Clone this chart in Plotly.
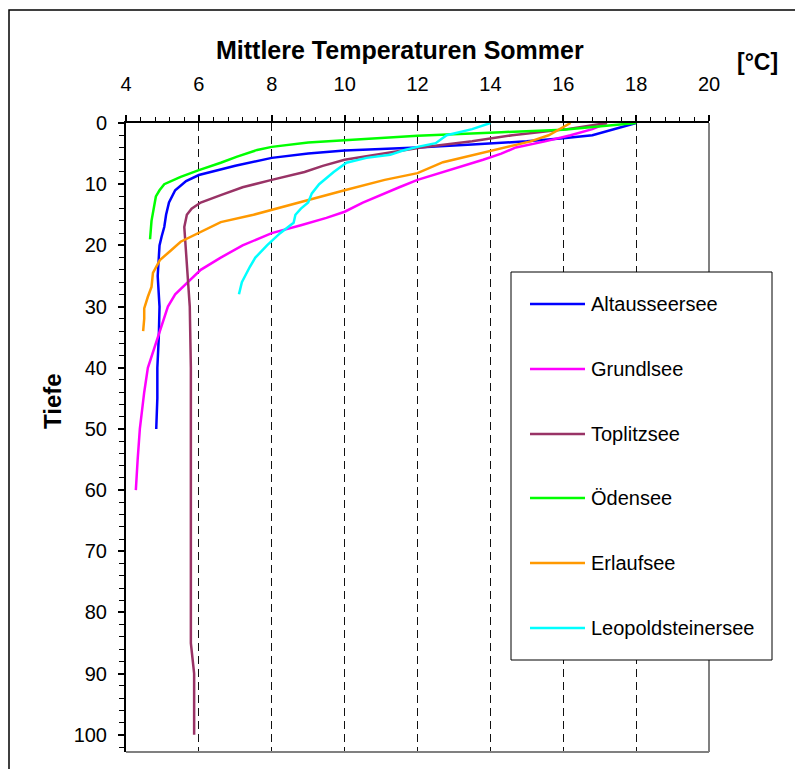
import plotly.graph_objects as go

# ---------------- data ----------------
lake_names = ["Altausseersee", "Grundlsee", "Toplitzsee", "Ödensee", "Erlaufsee", "Leopoldsteinersee"]
lake_colors = ["#0000FF", "#FF00FF", "#993366", "#00FF00", "#FF9900", "#00FFFF"]

altaussee_depth = [0, 1, 2, 2.5, 3, 3.5, 4, 4.5, 5, 5.7, 7, 8.5, 9.5, 11, 13, 15, 17, 18.5, 20, 25, 30, 35, 40, 45, 50]
altaussee_temp = [18.0, 17.4, 16.8, 16.0, 15.0, 13.5, 12.0, 10.0, 9.0, 8.0, 7.0, 6.0, 5.65, 5.35, 5.18, 5.1, 5.05, 4.98, 4.92, 4.87, 4.92, 4.9, 4.86, 4.86, 4.83]

grundl_depth = [0, 1, 2, 3, 4, 5, 6, 7.3, 9.3, 10.5, 11.5, 13, 14.5, 15.5, 16.7, 18, 20, 22, 24, 26, 28, 30, 35, 40, 44, 50, 55, 60]
grundl_temp = [17.2, 16.8, 16.2, 15.5, 14.7, 14.3, 13.8, 13.1, 12.0, 11.5, 11.1, 10.5, 10.0, 9.5, 8.8, 8.0, 7.2, 6.6, 6.05, 5.7, 5.35, 5.15, 4.88, 4.6, 4.5, 4.38, 4.32, 4.27]

toplitz_depth = [0, 1, 2, 3, 4, 5, 6, 7, 8, 9.3, 10.5, 11.8, 13, 14, 15, 17, 20, 25, 30, 40, 50, 60, 70, 80, 85, 90, 100]
toplitz_temp = [17.2, 16.1, 14.6, 13.5, 12.1, 11.0, 10.0, 9.4, 8.9, 8.0, 7.2, 6.6, 6.05, 5.8, 5.67, 5.6, 5.63, 5.7, 5.75, 5.78, 5.78, 5.78, 5.78, 5.78, 5.78, 5.87, 5.87]

oeden_depth = [0, 0.5, 1.1, 1.5, 2.1, 2.8, 3.2, 3.9, 4.4, 5.5, 6.5, 7.7, 8.8, 10, 11, 12, 14, 16, 19]
oeden_temp = [18.0, 17.0, 16.0, 14.3, 12.0, 10.0, 9.0, 8.0, 7.6, 7.05, 6.6, 6.0, 5.5, 5.05, 4.92, 4.82, 4.75, 4.7, 4.66]

erlauf_depth = [0, 1, 2, 3, 4, 5, 6.4, 8.2, 9.3, 11, 12.1, 13, 14.2, 15, 16.2, 18, 19.4, 21, 22.4, 24.5, 26.8, 28.4, 30.3, 32, 34]
erlauf_temp = [16.2, 15.9, 15.6, 15.1, 14.4, 13.7, 12.7, 12.0, 11.1, 10.0, 9.3, 8.8, 8.0, 7.5, 6.6, 6.0, 5.5, 5.2, 4.93, 4.74, 4.7, 4.6, 4.5, 4.5, 4.47]

leopold_depth = [0, 1, 2, 3.3, 3.9, 4.5, 5.2, 5.7, 6.5, 8, 10, 11.5, 13, 14, 15, 16.3, 18, 20, 22, 23.5, 26, 28]
leopold_temp = [14.0, 13.5, 12.8, 12.5, 12.0, 11.6, 11.25, 10.6, 10.05, 9.7, 9.3, 9.1, 9.0, 8.8, 8.65, 8.6, 8.23, 7.87, 7.55, 7.4, 7.18, 7.1]

depths = [altaussee_depth, grundl_depth, toplitz_depth, oeden_depth, erlauf_depth, leopold_depth]
temps = [altaussee_temp, grundl_temp, toplitz_temp, oeden_temp, erlauf_temp, leopold_temp]

x_ticks = [4, 6, 8, 10, 12, 14, 16, 18, 20]
y_ticks = [0, 10, 20, 30, 40, 50, 60, 70, 80, 90, 100]

title_text = "Mittlere Temperaturen Sommer"
unit_text = "[°C]"
y_title = "Tiefe"

# ---------------- layout geometry (pixels in the window) ----------------
OFF = 8  # page body margin
W, H = 803 - OFF, 769 - OFF
L, R, T, B = 126 - OFF, 709 - OFF, 123 - OFF, 752 - OFF
pw, ph = R - L, B - T

def px(x):
    return (x - OFF - L) / pw

def py(y):
    return (B - (y - OFF)) / ph

FONT = "Arial, Liberation Sans, sans-serif"

fig = go.Figure()
for name, color, d, t in zip(lake_names, lake_colors, depths, temps):
    fig.add_trace(go.Scatter(x=t, y=d, mode="lines", name=name,
                             line=dict(color=color, width=2.5), showlegend=False))

shapes = []
annotations = []

# outer chart frame
shapes.append(dict(type="rect", xref="paper", yref="paper",
                   x0=px(9), x1=px(830), y0=py(800), y1=py(10),
                   line=dict(color="black", width=1.5), fillcolor="rgba(0,0,0,0)", layer="above"))
# grey right and bottom plot-area borders
shapes.append(dict(type="line", xref="paper", yref="paper", x0=1, x1=1, y0=0, y1=1,
                   line=dict(color="#808080", width=2), layer="above"))
shapes.append(dict(type="line", xref="paper", yref="paper", x0=0, x1=1, y0=0, y1=0,
                   line=dict(color="#808080", width=2), layer="above"))

# legend box
shapes.append(dict(type="rect", xref="paper", yref="paper",
                   x0=px(511), x1=px(772), y0=py(660), y1=py(272),
                   line=dict(color="black", width=1), fillcolor="white", layer="above"))
row_y = [304, 369, 434, 498, 563, 628]
for name, color, ry in zip(lake_names, lake_colors, row_y):
    shapes.append(dict(type="line", xref="paper", yref="paper",
                       x0=px(530), x1=px(585), y0=py(ry), y1=py(ry),
                       line=dict(color=color, width=2.5), layer="above"))
    annotations.append(dict(text=name, xref="paper", yref="paper", x=px(589), y=py(ry),
                            xanchor="left", yanchor="middle", showarrow=False,
                            font=dict(family=FONT, size=20, color="black")))

annotations.append(dict(text="<b>" + title_text + "</b>", xref="paper", yref="paper",
                        x=px(400), y=py(50), xanchor="center", yanchor="middle", showarrow=False,
                        font=dict(family=FONT, size=25, color="black")))
annotations.append(dict(text="<b>" + unit_text + "</b>", xref="paper", yref="paper",
                        x=px(757), y=py(62), xanchor="center", yanchor="middle", showarrow=False,
                        font=dict(family=FONT, size=23, color="black")))
annotations.append(dict(text="<b>" + y_title + "</b>", xref="paper", yref="paper",
                        x=px(52), y=py(401), xanchor="center", yanchor="middle", showarrow=False,
                        textangle=-90, font=dict(family=FONT, size=24, color="black")))

fig.update_layout(
    width=W, height=H,
    margin=dict(l=L, r=W - R, t=T, b=H - B, pad=0),
    paper_bgcolor="white", plot_bgcolor="white",
    showlegend=False,
    shapes=shapes, annotations=annotations,
    font=dict(family=FONT, size=20, color="black"),
)

fig.update_xaxes(
    side="top", range=[4, 20], tickvals=x_ticks, ticktext=[str(v) for v in x_ticks],
    showline=True, linecolor="black", linewidth=2,
    ticks="outside", ticklen=6, tickwidth=1.5, tickcolor="black",
    minor=dict(dtick=0.4, tick0=4, ticks="outside", ticklen=4, tickcolor="black", tickwidth=1, showgrid=False),
    showgrid=True, gridcolor="#111111", gridwidth=1, griddash="8px,5px",
    zeroline=False, tickfont=dict(family=FONT, size=20, color="black"),
    ticklabelstandoff=16,
)
fig.update_yaxes(
    range=[102.8, 0], tickvals=y_ticks, ticktext=[str(v) for v in y_ticks],
    showline=True, linecolor="black", linewidth=2,
    ticks="outside", ticklen=6, tickwidth=1.5, tickcolor="black",
    minor=dict(dtick=2, tick0=0, ticks="outside", ticklen=5, tickcolor="black", tickwidth=1, showgrid=False),
    showgrid=False, zeroline=False,
    tickfont=dict(family=FONT, size=20, color="black"),
    ticklabelstandoff=7,
)

fig.write_html("out.html")
